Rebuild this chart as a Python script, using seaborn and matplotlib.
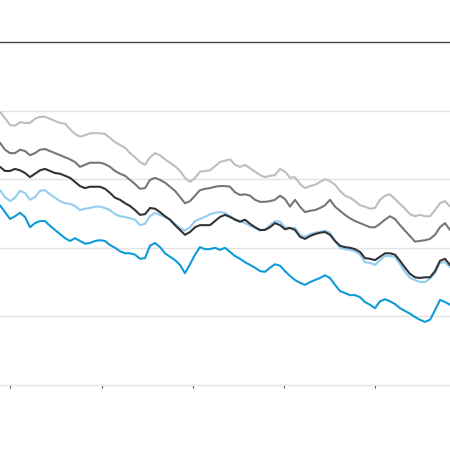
import numpy as np
import pandas as pd
import matplotlib
matplotlib.use("Agg")
import matplotlib.pyplot as plt
import matplotlib.dates as mdates
import seaborn as sns

# ---- data (one sample every 20 days) ----
start_date = "2015-11-22"
n_steps = 91

light_gray = [3.98, 3.89, 3.79, 3.78, 3.83, 3.82, 3.82, 3.88, 3.91, 3.91,
              3.88, 3.85, 3.82, 3.81, 3.73, 3.66, 3.62, 3.64, 3.67, 3.67,
              3.67, 3.66, 3.60, 3.54, 3.50, 3.46, 3.38, 3.32, 3.25, 3.21,
              3.32, 3.38, 3.35, 3.29, 3.24, 3.19, 3.12, 3.02, 2.96, 3.02,
              3.11, 3.12, 3.13, 3.19, 3.25, 3.27, 3.29, 3.21, 3.18, 3.21,
              3.16, 3.11, 3.06, 3.03, 3.05, 3.06, 3.15, 3.11, 3.02, 3.03,
              2.93, 2.87, 2.90, 2.92, 2.96, 3.00, 2.97, 2.92, 2.83, 2.76,
              2.73, 2.68, 2.62, 2.60, 2.57, 2.58, 2.70, 2.76, 2.78, 2.71,
              2.64, 2.57, 2.49, 2.46, 2.48, 2.46, 2.46, 2.55, 2.65, 2.68,
              2.60]

mid_gray = [3.53, 3.43, 3.38, 3.38, 3.43, 3.41, 3.35, 3.38, 3.43, 3.44,
            3.41, 3.38, 3.35, 3.32, 3.29, 3.25, 3.18, 3.21, 3.24, 3.24,
            3.24, 3.22, 3.18, 3.12, 3.08, 3.05, 2.99, 2.93, 2.86, 2.87,
            2.99, 3.02, 2.99, 2.95, 2.89, 2.83, 2.74, 2.65, 2.68, 2.76,
            2.84, 2.86, 2.87, 2.89, 2.90, 2.90, 2.89, 2.81, 2.77, 2.78,
            2.76, 2.70, 2.67, 2.67, 2.68, 2.70, 2.76, 2.71, 2.60, 2.70,
            2.60, 2.52, 2.54, 2.55, 2.58, 2.62, 2.70, 2.60, 2.54, 2.48,
            2.43, 2.39, 2.36, 2.33, 2.30, 2.30, 2.35, 2.41, 2.46, 2.42,
            2.33, 2.25, 2.17, 2.09, 2.10, 2.11, 2.13, 2.19, 2.30, 2.36,
            2.26]

dark = [3.18, 3.12, 3.12, 3.15, 3.13, 3.09, 3.03, 3.08, 3.13, 3.15,
        3.12, 3.09, 3.08, 3.05, 3.02, 2.96, 2.90, 2.87, 2.89, 2.89,
        2.89, 2.86, 2.80, 2.73, 2.70, 2.65, 2.61, 2.55, 2.48, 2.49,
        2.58, 2.57, 2.52, 2.46, 2.41, 2.33, 2.26, 2.19, 2.23, 2.30,
        2.33, 2.33, 2.33, 2.39, 2.45, 2.48, 2.45, 2.41, 2.38, 2.41,
        2.35, 2.30, 2.26, 2.26, 2.30, 2.36, 2.33, 2.27, 2.29, 2.26,
        2.16, 2.13, 2.17, 2.20, 2.22, 2.23, 2.19, 2.10, 2.03, 2.01,
        2.00, 1.98, 1.94, 1.85, 1.84, 1.82, 1.87, 1.92, 1.92, 1.90,
        1.81, 1.71, 1.62, 1.57, 1.56, 1.57, 1.57, 1.66, 1.81, 1.84,
        1.75]

light_blue = [2.84, 2.74, 2.68, 2.73, 2.83, 2.80, 2.70, 2.74, 2.83, 2.84,
              2.78, 2.73, 2.68, 2.65, 2.64, 2.61, 2.55, 2.57, 2.58, 2.60,
              2.60, 2.58, 2.55, 2.49, 2.46, 2.45, 2.43, 2.41, 2.33, 2.35,
              2.46, 2.51, 2.48, 2.45, 2.41, 2.35, 2.29, 2.25, 2.30, 2.39,
              2.42, 2.45, 2.49, 2.51, 2.52, 2.51, 2.46, 2.42, 2.39, 2.36,
              2.32, 2.29, 2.25, 2.27, 2.33, 2.39, 2.38, 2.30, 2.29, 2.29,
              2.19, 2.16, 2.20, 2.22, 2.23, 2.25, 2.22, 2.10, 2.00, 1.98,
              1.97, 1.95, 1.90, 1.79, 1.78, 1.75, 1.82, 1.88, 1.88, 1.87,
              1.76, 1.65, 1.56, 1.53, 1.50, 1.50, 1.55, 1.63, 1.78, 1.79,
              1.72]

blue = [2.62, 2.52, 2.42, 2.46, 2.51, 2.45, 2.30, 2.36, 2.39, 2.39,
        2.32, 2.26, 2.20, 2.14, 2.10, 2.14, 2.10, 2.06, 2.07, 2.10,
        2.11, 2.10, 2.04, 2.00, 1.95, 1.92, 1.92, 1.90, 1.84, 1.85,
        2.03, 2.07, 2.01, 1.92, 1.87, 1.82, 1.75, 1.63, 1.76, 1.90,
        2.01, 1.98, 1.98, 2.00, 1.97, 2.00, 1.94, 1.88, 1.84, 1.79,
        1.75, 1.71, 1.66, 1.65, 1.71, 1.76, 1.74, 1.66, 1.59, 1.53,
        1.49, 1.46, 1.50, 1.53, 1.56, 1.60, 1.56, 1.46, 1.37, 1.34,
        1.31, 1.31, 1.28, 1.21, 1.17, 1.12, 1.22, 1.25, 1.22, 1.18,
        1.12, 1.08, 1.04, 0.99, 0.95, 0.92, 0.95, 1.09, 1.24, 1.21,
        1.17]

series_names = ["light_gray", "mid_gray", "light_blue", "dark", "blue"]
series_values = [light_gray, mid_gray, light_blue, dark, blue]
palette = {"light_gray": "#bebebe", "mid_gray": "#777777",
           "light_blue": "#92cdf0", "dark": "#333333", "blue": "#0f9bd9"}

dates = pd.date_range(start_date, periods=n_steps, freq="20D")
df = pd.concat([pd.DataFrame({"date": dates, "value": v, "series": name})
                for name, v in zip(series_names, series_values)],
               ignore_index=True)

# ---- figure ----
sns.set_style("white")
fig = plt.figure(figsize=(4.5, 4.5), dpi=100)
ax = fig.add_axes([0.0, 65 / 450, 1.0, 343 / 450])

sns.lineplot(data=df, x="date", y="value", hue="series",
             hue_order=series_names, palette=palette, linewidth=1.5,
             legend=False, ax=ax, estimator=None)

ax.set_ylim(0, 5)
ax.set_xlim(dates[0], dates[-1])
ax.set_yticks([1, 2, 3, 4])
ax.yaxis.grid(True, color="#e3e3e3", linewidth=1.0)
ax.set_axisbelow(True)
ax.tick_params(axis="y", length=0, labelleft=False)

ax.xaxis.set_major_locator(mdates.YearLocator())
ax.tick_params(axis="x", direction="out", length=2.5, width=0.8,
               color="#555555", labelbottom=False, bottom=True)

for side in ["left", "right"]:
    ax.spines[side].set_visible(False)
ax.spines["top"].set_color("#444444")
ax.spines["top"].set_linewidth(1.0)
ax.spines["bottom"].set_color("#e3e3e3")
ax.spines["bottom"].set_linewidth(1.0)

ax.set_xlabel("")
ax.set_ylabel("")

fig.savefig("out.png", dpi=100, facecolor="white")
